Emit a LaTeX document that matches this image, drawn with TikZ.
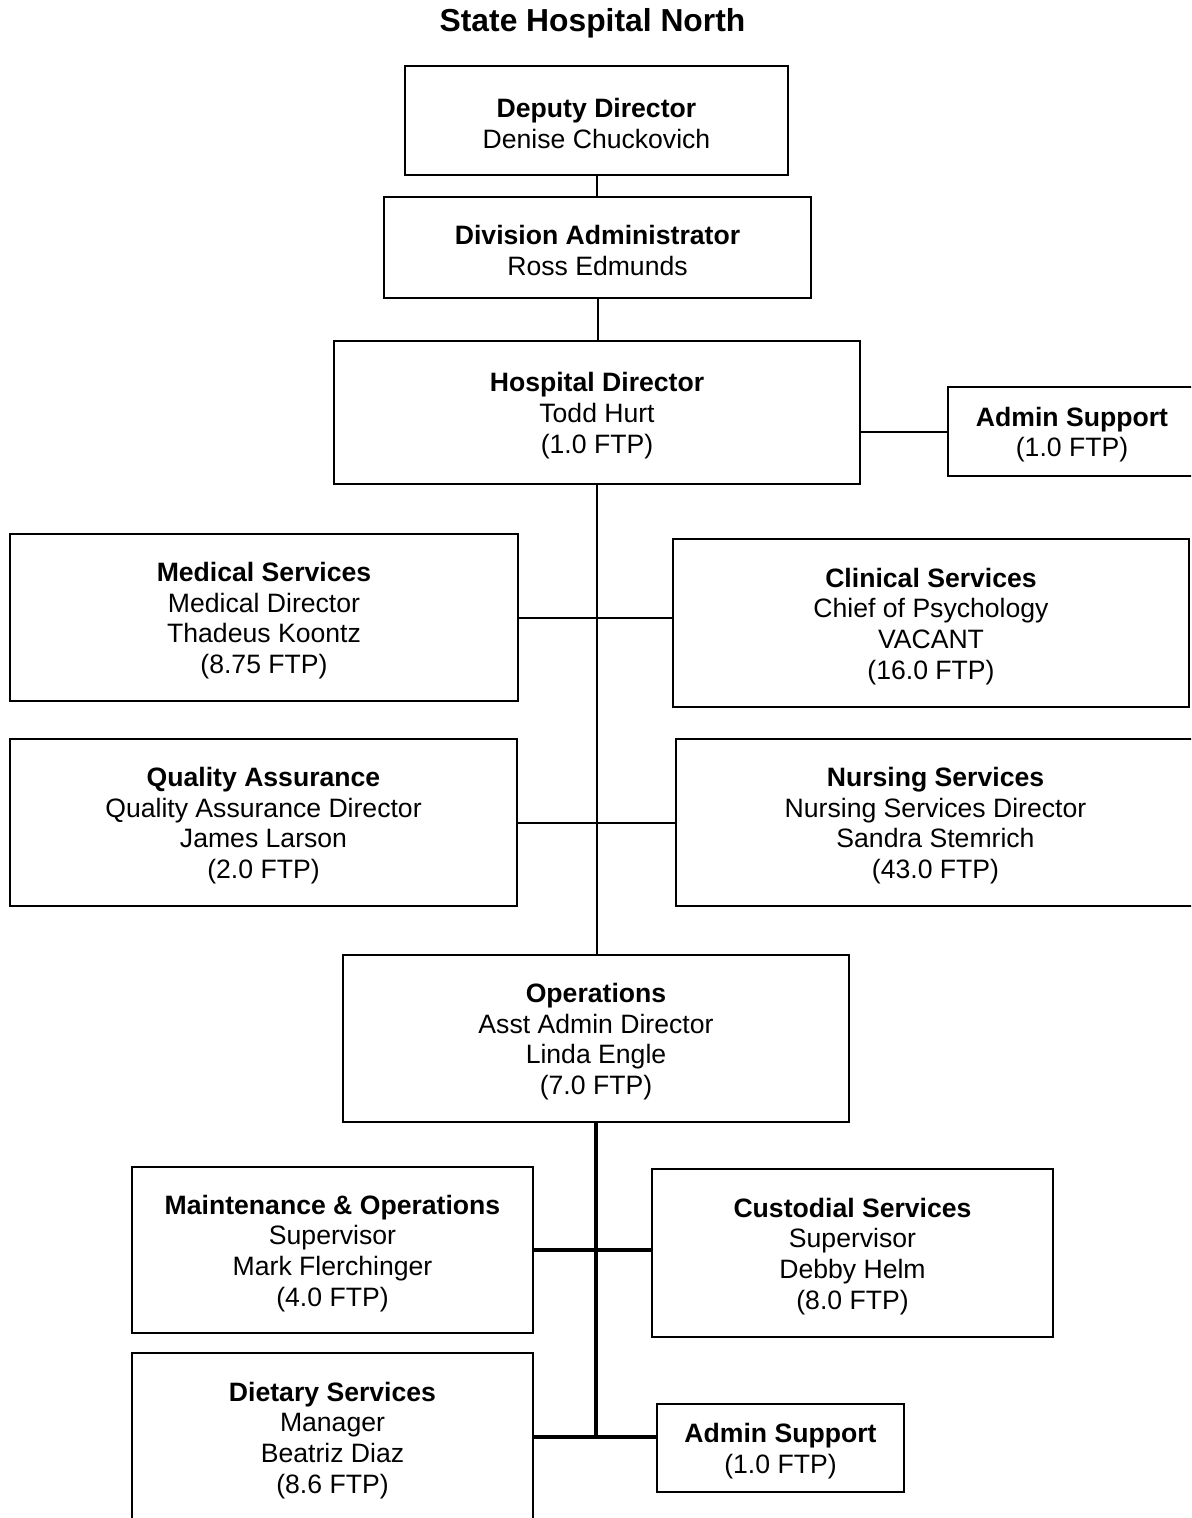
\documentclass[tikz,border=0pt]{standalone}
\usepackage{fontspec}
\setmainfont{Liberation Sans}
% bold first line of a box, with a strut that sets the text slightly lower
\newcommand{\boxhead}[1]{\textbf{\rule{0pt}{12.8pt}#1}}
\begin{document}
\begin{tikzpicture}[x=0.5pt,y=-0.5pt,
  box/.style={draw, line width=1pt, align=center, inner sep=0pt,
    font=\fontsize{13.3}{15.35}\selectfont},
  link/.style={line width=1pt},
  heavylink/.style={line width=1.6pt}]
\useasboundingbox (0,0) rectangle (1191,1518);
\clip (0,0) rectangle (1191,1518);

% heading
\node[font=\fontsize{15.9}{18}\selectfont\bfseries, inner sep=0pt] (title) at (592.5,23) {State Hospital North};

% executive chain
\node[box, minimum width=191.5pt, minimum height=54.5pt] (dep) at (596.5,120.5)
  {\boxhead{Deputy Director}\\Denise Chuckovich};
\node[box, minimum width=213.5pt, minimum height=50.5pt] (div) at (597.5,247.5)
  {\boxhead{Division Administrator}\\Ross Edmunds};
\node[box, minimum width=263pt, minimum height=71.5pt] (hosp) at (597,412.5)
  {\boxhead{Hospital Director}\\Todd Hurt\\(1.0 FTP)};
\node[box, minimum width=124pt, minimum height=44.5pt] (adm1) at (1072,431.5)
  {\boxhead{Admin Support}\\(1.0 FTP)};

% departments
\node[box, minimum width=254pt, minimum height=83.5pt] (med) at (264,617.5)
  {\boxhead{Medical Services}\\Medical Director\\Thadeus Koontz\\(8.75 FTP)};
\node[box, minimum width=258pt, minimum height=84pt] (clin) at (931,623)
  {\boxhead{Clinical Services}\\Chief of Psychology\\VACANT\\(16.0 FTP)};
\node[box, minimum width=253.5pt, minimum height=83.5pt] (qa) at (263.5,822.5)
  {\boxhead{Quality Assurance}\\Quality Assurance Director\\James Larson\\(2.0 FTP)};
\node[box, minimum width=259.5pt, minimum height=83.5pt] (nurs) at (935.5,822.5)
  {\boxhead{Nursing Services}\\Nursing Services Director\\Sandra Stemrich\\(43.0 FTP)};

% operations branch
\node[box, minimum width=253pt, minimum height=83.5pt] (ops) at (596,1038.5)
  {\boxhead{Operations}\\Asst Admin Director\\Linda Engle\\(7.0 FTP)};
\node[box, minimum width=200.5pt, minimum height=83pt] (maint) at (332.5,1250)
  {\boxhead{Maintenance \& Operations}\\Supervisor\\Mark Flerchinger\\(4.0 FTP)};
\node[box, minimum width=200.5pt, minimum height=84pt] (cust) at (852.5,1253)
  {\boxhead{Custodial Services}\\Supervisor\\Debby Helm\\(8.0 FTP)};
\node[box, minimum width=200.5pt, minimum height=84pt] (diet) at (332.5,1437)
  {\boxhead{Dietary Services}\\Manager\\Beatriz Diaz\\(8.6 FTP)};
\node[box, minimum width=123.5pt, minimum height=44pt] (adm2) at (780.5,1448)
  {\boxhead{Admin Support}\\(1.0 FTP)};

% reporting lines
\draw[link] (dep.south) -- (dep.south |- div.north);
\draw[link] (div.south) -- (div.south |- hosp.north);
\draw[link] (adm1.west) -- (adm1.west -| hosp.east);
\draw[link] (hosp.south) -- (hosp.south |- ops.north);
\draw[link] (med.east) -- (med.east -| clin.west);
\draw[link] (qa.east) -- (qa.east -| nurs.west);

\coordinate (opsend) at (ops.south |- diet.east);
\draw[heavylink] (ops.south) -- (opsend);
\draw[heavylink] (maint.east) -- (maint.east -| cust.west);
\draw[heavylink] (diet.east) -- (diet.east -| adm2.west);
\end{tikzpicture}
\end{document}
